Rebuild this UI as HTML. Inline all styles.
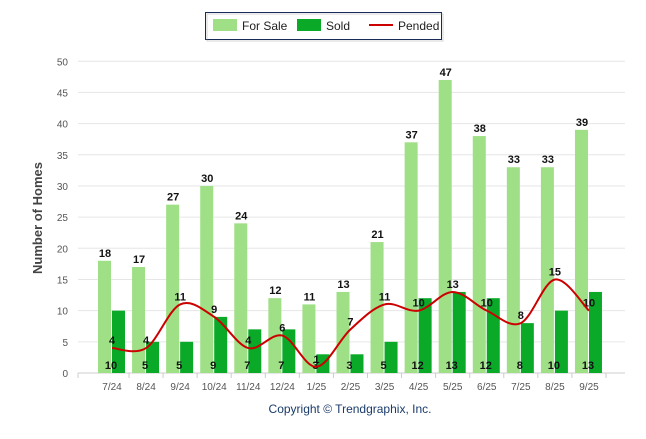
<!DOCTYPE html><html><head><style>body{margin:0;background:#fff}svg{font-family:"Liberation Sans",Arial,sans-serif}</style></head><body>
<svg id="s" width="646" height="434" xmlns="http://www.w3.org/2000/svg">
<rect x="0" y="0" width="646" height="434" fill="#fff"/>
<g id="grid"></g>
<rect x="205.5" y="12.5" width="236" height="27" fill="#fff" stroke="#1a2b5a" stroke-width="1"/>
<rect x="207" y="14" width="236" height="27" fill="none" stroke="#999" stroke-width="1" opacity="0.4"/>
<rect x="213" y="19" width="24" height="12" fill="#9fdf85"/><text x="242" y="30" font-size="12" fill="#222">For Sale</text>
<rect x="297" y="19" width="24" height="12" fill="#0aaa28"/><text x="326" y="30" font-size="12" fill="#222">Sold</text>
<line x1="369" y1="25" x2="393" y2="25" stroke="#cc0000" stroke-width="2"/><text x="398" y="30" font-size="12" fill="#222">Pended</text>
<text transform="translate(42,218) rotate(-90)" text-anchor="middle" font-size="13" font-weight="bold" fill="#444">Number of Homes</text>
<text x="350" y="413" text-anchor="middle" font-size="12" fill="#1a3b6a">Copyright © Trendgraphix, Inc.</text>
</svg>
<script>
const fs=[18,17,27,30,24,12,11,13,21,37,47,38,33,33,39],sd=[10,5,5,9,7,7,3,3,5,12,13,12,8,10,13],pd=[4,4,11,9,4,6,1,7,11,10,13,10,8,15,10];
const lb=["7/24","8/24","9/24","10/24","11/24","12/24","1/25","2/25","3/25","4/25","5/25","6/25","7/25","8/25","9/25"];
const y0=373,k=6.235,sp=34.07,c0=112;const Y=v=>y0-v*k;let h="";
for(let v=0;v<=50;v+=5){h+=`<line x1="78" x2="625" y1="${Y(v)}" y2="${Y(v)}" stroke="${v?'#e6e6e6':'#ccc'}"/>`;h+=`<text x="68" y="${Y(v)+4}" text-anchor="end" font-size="10" fill="#555">${v}</text>`;}
h+=`<line x1="78" x2="78" y1="373" y2="378" stroke="#ccc"/>`;
for(let i=0;i<15;i++){const c=c0+i*sp;h+=`<line x1="${c+17}" x2="${c+17}" y1="373" y2="378" stroke="#ccc"/>`;
h+=`<rect x="${c-14}" y="${Y(fs[i])}" width="13" height="${fs[i]*k}" fill="#9fdf85"/>`;
h+=`<rect x="${c}" y="${Y(sd[i])}" width="13" height="${sd[i]*k}" fill="#0aaa28"/>`;
h+=`<text x="${c-7}" y="${Y(fs[i])-4}" text-anchor="middle" font-size="11" font-weight="bold" fill="#111">${fs[i]}</text>`;
h+=`<text x="${c-1}" y="369" text-anchor="middle" font-size="11" font-weight="bold" fill="#111">${sd[i]}</text>`;
h+=`<text x="${c}" y="${Y(pd[i])-4}" text-anchor="middle" font-size="11" font-weight="bold" fill="#111">${pd[i]}</text>`;
h+=`<text x="${c}" y="390" text-anchor="middle" font-size="10" fill="#555">${lb[i]}</text>`;}
const P=pd.map((v,i)=>[c0+i*sp,Y(v)]);let d=`M${P[0]}`;
for(let i=0;i<14;i++){const a=P[i-1]||P[i],b=P[i],c=P[i+1],e=P[i+2]||c;
d+=`C${b[0]+(c[0]-a[0])/6},${b[1]+(c[1]-a[1])/6} ${c[0]-(e[0]-b[0])/6},${c[1]-(e[1]-b[1])/6} ${c[0]},${c[1]}`;}
h+=`<path d="${d}" fill="none" stroke="#cc0000" stroke-width="2"/>`;
document.getElementById("grid").innerHTML=h;
</script></body></html>
